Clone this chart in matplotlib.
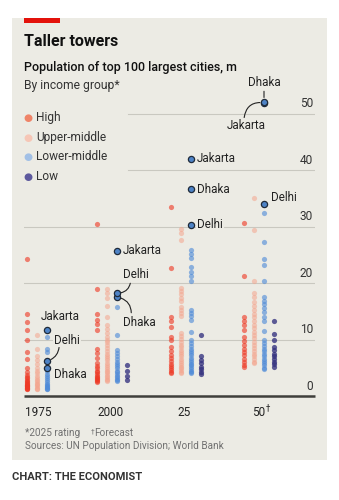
import matplotlib
matplotlib.use("Agg")
import matplotlib.pyplot as plt
from matplotlib.patches import Rectangle

plt.rcParams['font.family'] = ['Roboto', 'DejaVu Sans']

# ---------------- data (population, m) ----------------
years = [1975, 2000, 2025, 2050]
year_labels = ["1975", "2000", "25", "50"]
groups = ["High", "Upper-middle", "Lower-middle", "Low"]

high = {
    1975: [24.2, 14.6, 13.1, 11.7, 9.9, 7.7, 6.5, 5.0, 4.2, 3.7, 3.4, 3.1, 2.9, 2.7, 2.5, 2.3, 2.2, 2.0,
           1.9, 1.8, 1.7, 1.6, 1.5, 1.4, 1.3, 1.2],
    2000: [30.4, 18.9, 14.6, 13.5, 12.8, 11.7, 8.3, 7.6, 6.8, 5.9, 5.3, 4.9, 4.5, 4.2, 3.9, 3.6, 3.4,
           3.2, 3.0, 2.8, 2.6, 2.5],
    2025: [33.4, 22.6, 14.0, 13.2, 12.3, 10.5, 9.9, 8.7, 7.9, 7.3, 6.7, 6.2, 5.7, 5.3, 4.9, 4.6, 4.3, 4.0],
    2050: [30.7, 21.2, 14.0, 13.3, 12.5, 11.7, 10.5, 9.8, 9.1, 8.4, 7.8, 7.2, 6.6, 6.0, 5.5, 5.2],
}
upper_middle = {
    1975: [10.8, 8.4, 7.0, 6.3, 5.6, 5.0, 4.5, 4.0, 3.6, 3.2, 2.9, 2.6, 2.3, 2.1, 1.9, 1.7, 1.5, 1.3, 1.2],
    2000: [19.0, 18.2, 17.3, 15.9, 14.0, 12.5, 11.8, 11.1, 10.5, 10.0, 9.5, 9.0, 8.5, 8.0, 7.5, 7.1,
           6.7, 6.3, 5.9, 5.5, 5.1, 4.8, 4.5, 4.2, 3.9, 3.6, 3.3, 3.0, 2.8, 2.6],
    2025: [29.6, 28.8, 27.6, 19.2, 18.6, 18.0, 17.4, 16.9, 15.8, 15.2, 14.7, 14.1, 11.1, 10.6, 10.1,
           9.6, 9.1, 8.6, 8.2, 7.8, 7.4, 7.0, 6.6, 6.2, 5.8, 5.5, 5.2, 4.9, 4.6, 4.3, 4.0],
    2050: [35.0, 29.4, 20.4, 18.2, 17.6, 16.7, 16.0, 15.3, 14.6, 14.0, 13.3, 12.6, 12.0, 11.4, 10.8,
           10.2, 9.6, 9.0, 8.5, 8.0, 7.5, 7.0, 6.5, 6.1, 5.8],
}
lower_middle = {
    1975: [10.5, 8.4, 7.7, 4.4, 3.9, 3.5, 3.1, 2.8, 2.5, 2.2, 2.0, 1.8, 1.6, 1.4, 1.3, 1.2],
    2000: [15.8, 10.8, 8.1, 7.6, 7.1, 6.6, 6.1, 5.7, 5.3, 4.9, 4.5, 4.2, 3.9, 3.6, 3.3, 3.0, 2.8, 2.6],
    2025: [25.8, 25.1, 24.4, 22.9, 22.0, 21.2, 20.3, 15.3, 14.7, 14.1, 13.5, 11.4, 9.9, 9.4, 8.9, 8.4,
           8.0, 7.6, 7.2, 6.8, 6.4, 6.0, 5.7, 5.4, 5.1, 4.8, 4.5, 4.2, 4.0],
    2050: [32.4, 27.2, 24.2, 23.2, 20.3, 17.6, 16.9, 16.2, 15.5, 14.8, 14.0, 13.3, 11.5, 9.9, 9.4, 8.9,
           8.4, 7.9, 7.4, 7.0, 6.6, 6.2, 5.8, 5.4, 5.0, 4.7],
}
low = {
    1975: [],
    2000: [5.4, 4.5, 3.6, 2.8],
    2025: [10.8, 7.0, 6.4, 5.8, 5.2, 4.7, 4.2, 3.9],
    2050: [13.3, 11.0, 9.9, 8.7, 8.1, 7.5, 7.0, 6.5, 6.0, 5.6, 5.2],
}

jakarta = [11.7, 25.7, 42.0, 51.9]
dhaka = [5.0, 17.5, 36.6, 52.1]
delhi = [6.2, 18.2, 30.3, 33.9]

# ---------------- styling ----------------
BG = "#ECEBE4"
dot_colors = ["#EE3A26", "#F4A58E", "#4F8BD8", "#34317F"]
dot_alpha = [0.62, 0.55, 0.62, 0.78]
legend_colors = ["#EF8468", "#F6C6B6", "#A2C0E6", "#5D599D"]
W, H = 339, 500

fig = plt.figure(figsize=(W / 100, H / 100), dpi=100)
fig.patch.set_facecolor("white")

def fx(px):
    return px / W

def fy(py):
    return 1 - py / H

# panel background and red bar
fig.patches.append(Rectangle((fx(12), fy(460)), (327 - 12) / W, (460 - 18) / H,
                             transform=fig.transFigure, facecolor=BG, edgecolor="none", zorder=-10))
fig.patches.append(Rectangle((fx(24), fy(22.5)), 36 / W, 4.5 / H,
                             transform=fig.transFigure, facecolor="#E3120B", edgecolor="none", zorder=-5))

# axes geometry: x in pixels 24..315, y: 0 at 396 px, 5.65 px per million
PX_PER_M = 5.65
y_top = 56.0
ax_bottom_px = 396
ax_top_px = 396 - y_top * PX_PER_M
ax = fig.add_axes([fx(24), fy(ax_bottom_px), (315 - 24) / W, (ax_bottom_px - ax_top_px) / H])
ax.set_facecolor("none")
ax.set_zorder(2)

# x data unit = 1 pixel
def dx(px):
    return px

def dy(py):
    return (396 - py) / PX_PER_M

ax.set_xlim(24, 315)
ax.set_ylim(0, y_top)
ax.axis("off")

group_px = dict(zip(years, [27, 97, 171, 244]))   # left column of each year cluster
col_step = 10

# gridlines
for v in [10, 20, 30]:
    ax.plot([dx(24), dx(315)], [v, v], color="#C9C8C0", lw=0.8, zorder=1)
for v in [40, 50]:
    ax.plot([dx(128), dx(315)], [v, v], color="#C9C8C0", lw=0.8, zorder=1)
ax.plot([dx(24), dx(315)], [0, 0], color="#3F3F3B", lw=1.8, zorder=1, solid_capstyle="butt",
        clip_on=False)
for v in [0, 10, 20, 30, 40, 50]:
    ax.text(dx(313), v + 0.55, str(v), ha="right", va="bottom", fontsize=8.6, color="#333333", zorder=3)

# dots
series = [high, upper_middle, lower_middle, low]
for k, grp in enumerate(series):
    for yr in years:
        vals = grp[yr]
        ax.scatter([group_px[yr] + k * col_step] * len(vals), vals, s=14, color=dot_colors[k],
                   alpha=dot_alpha[k], linewidths=0, zorder=2)

# highlighted cities (lower-middle column)
xl = [group_px[yr] + 2 * col_step for yr in years]
for city in (jakarta, dhaka, delhi):
    ax.scatter(xl, city, s=20, facecolor="#4E83C6",
               edgecolor="#1F2B3A", linewidths=0.9, zorder=4, clip_on=False)

lab_kw = dict(fontsize=8.4, color="#222222", zorder=5)
box = dict(boxstyle="square,pad=0.08", facecolor=BG, edgecolor="none")
ln = dict(arrowstyle="-", color="#222222", lw=0.8, shrinkA=0, shrinkB=3)

# 1975
ax.text(dx(41), dy(317), "Jakarta", ha="left", va="center", **lab_kw)
ax.annotate("Delhi", xy=(xl[0], delhi[0]), xytext=(dx(54), dy(340)), ha="left", va="center",
            bbox=box, arrowprops=dict(ln, connectionstyle="arc3,rad=-0.35", relpos=(0.2, 0.0)), **lab_kw)
ax.text(dx(54), dy(375), "Dhaka", ha="left", va="center", **lab_kw)
# 2000
ax.text(dx(123), dy(250), "Jakarta", ha="left", va="center", **lab_kw)
ax.annotate("Delhi", xy=(xl[1], delhi[1]), xytext=(dx(123), dy(274)), ha="left", va="center",
            arrowprops=dict(ln, connectionstyle="arc3,rad=-0.45", relpos=(0.3, 0.0)), **lab_kw)
ax.annotate("Dhaka", xy=(xl[1], dhaka[1]), xytext=(dx(123), dy(322)), ha="left", va="center",
            arrowprops=dict(ln, connectionstyle="arc3,rad=0.45", relpos=(0.25, 1.0)), **lab_kw)
# 2025
ax.text(dx(197), jakarta[2], "Jakarta", ha="left", va="center", **lab_kw)
ax.text(dx(197), dhaka[2], "Dhaka", ha="left", va="center", **lab_kw)
ax.text(dx(197), delhi[2], "Delhi", ha="left", va="center", bbox=box, **lab_kw)
# 2050
ax.text(dx(271), dy(197), "Delhi", ha="left", va="center", **lab_kw)
ax.annotate("Dhaka", xy=(xl[3], dhaka[3]), xytext=(xl[3], dy(82)), ha="center", va="center",
            annotation_clip=False, arrowprops=dict(ln, relpos=(0.5, 0.0)), **lab_kw)
ax.annotate("Jakarta", xy=(xl[3], jakarta[3]), xytext=(dx(246), dy(125)), ha="center", va="center",
            bbox=box, arrowprops=dict(ln, connectionstyle="arc3,rad=-0.5", relpos=(0.45, 1.0)), **lab_kw)

# titles
fig.text(fx(24), fy(42), "Taller towers", fontsize=11.5, fontweight="bold", color="#111111",
         ha="left", va="center")
fig.text(fx(24), fy(68), "Population of top 100 largest cities, m", fontsize=9.0,
         fontweight="medium", color="#111111", ha="left", va="center")
fig.text(fx(24), fy(85), "By income group*", fontsize=8.7, color="#333333", ha="left", va="center")

# legend
for i, (g, c) in enumerate(zip(groups, legend_colors)):
    yy = [118, 137.5, 157, 177][i]
    fig.text(fx(27.5), fy(yy), "\u25CF", fontsize=7.5, color=c, ha="center", va="center",
             family=["DejaVu Sans"])
    fig.text(fx(36), fy(yy), g, fontsize=8.6, color="#333333", ha="left", va="center")

# x labels
for lbl, px in zip(year_labels, [25, 97, 177, 252]):
    fig.text(fx(px), fy(412), lbl, fontsize=8.5, color="#222222", ha="left", va="center")
fig.text(fx(265.5), fy(408), "\u2020", fontsize=6, color="#222222", ha="left", va="center",
         family=["DejaVu Sans"])

# footnotes
fig.text(fx(25), fy(433), "*2025 rating", fontsize=7.2, color="#707070", ha="left", va="center")
fig.text(fx(91), fy(431), "\u2020", fontsize=5, color="#707070", ha="left", va="center",
         family=["DejaVu Sans"])
fig.text(fx(94.5), fy(433), "Forecast", fontsize=7.2, color="#707070", ha="left", va="center")
fig.text(fx(25), fy(446), "Sources: UN Population Division; World Bank", fontsize=7.2,
         color="#707070", ha="left", va="center")
fig.text(fx(12), fy(477), "CHART: THE ECONOMIST", fontsize=8.0, fontweight="bold",
         color="#333333", ha="left", va="center")

fig.savefig("out.png", dpi=100, facecolor="white")
